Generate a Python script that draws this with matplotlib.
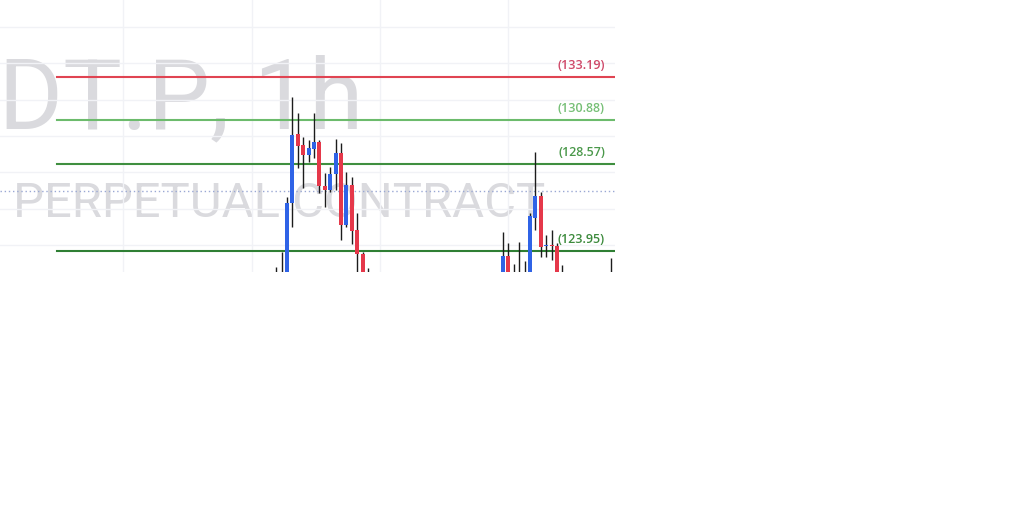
"""Recreate a cropped TradingView-style 1h candlestick chart with level lines."""

import matplotlib
matplotlib.use("Agg")
import matplotlib.pyplot as plt
import matplotlib.transforms as mtransforms

# candle position index and OHLC (hidden parts below the crop are estimates)
idx = [51, 52, 53, 54, 55, 56, 57, 58, 59, 60, 61, 62, 63, 64, 65, 66, 67, 68,
       93, 94, 95, 96, 97, 98, 99, 100, 101, 102, 103, 104, 113]
opens = [122.5, 122.5, 122.0, 126.48, 130.16, 129.58, 129.05, 129.37, 129.76, 127.40,
         127.19, 128.02, 129.14, 125.33, 127.46, 125.07, 123.79, 122.5,
         122.5, 123.68, 122.5, 122.5, 122.5, 122.5, 125.69, 126.87, 124.22, 124.26,
         124.22, 122.5, 122.5]
highs = [123.10, 123.91, 126.83, 132.15, 131.26, 130.02, 129.85, 131.26, 129.85, 128.08,
         128.39, 129.88, 129.67, 128.16, 127.86, 125.95, 123.91, 123.05,
         124.98, 124.36, 123.26, 124.45, 123.44, 125.95, 129.22, 127.10, 124.80, 125.07,
         124.36, 123.21, 123.56]
lows = [122.2, 122.2, 121.8, 125.24, 128.34, 127.28, 128.69, 128.87, 127.01, 126.30,
        127.10, 127.19, 124.53, 125.24, 124.32, 122.5, 122.3, 122.3,
        122.2, 122.3, 122.2, 122.2, 122.2, 122.3, 125.07, 123.65, 123.65, 123.47,
        122.4, 122.2, 122.2]
closes = [122.6, 122.6, 126.52, 130.11, 129.54, 129.05, 129.40, 129.72, 127.40, 127.19,
          128.02, 129.14, 125.33, 127.46, 125.03, 123.79, 122.5, 122.6,
          123.68, 122.6, 122.6, 122.6, 122.6, 125.81, 126.87, 124.18, 124.26, 124.22,
          122.6, 122.6, 122.6]

# horizontal levels
levels = [133.19, 130.88, 128.57, 123.95]
level_labels = ["(133.19)", "(130.88)", "(128.57)", "(123.95)"]
level_colors = ["#e04452", "#6cbb6c", "#3f8f3f", "#2f7f34"]
label_colors = ["#cf4868", "#76bf76", "#4a984a", "#3c8a3c"]
last_price = 127.14

grid_prices = [135.85, 133.92, 131.99, 130.06, 128.13, 126.20, 124.27]
grid_idx = [22.6, 46.5, 70.2, 93.9]

# watermark lines: text, measured part, part width px, right px, baseline px, cap px
watermark = [
    ("SDT.P, 1h", "DT.P, 1h", 353, 363, 128, 76),
    ("S PERPETUAL CONTRACT", "PERPETUAL CONTRACT", 520, 545, 217, 37),
]

UP = "#2f63e6"
DOWN = "#e5384a"
WICK = "#1c1c1c"
W, H = 1024, 517

fig = plt.figure(figsize=(W / 100, H / 100), dpi=100)
fig.patch.set_facecolor("white")
ax = fig.add_axes([0, 1 - 272 / H, 615 / W, 272 / H])
ax.set_xlim(-0.148, 113.74)
ax.set_ylim(122.83, 137.28)
ax.axis("off")

# faint grid
for g in grid_prices:
    ax.axhline(g, color="#f1f2f6", lw=1, zorder=0.5)
for g in grid_idx:
    ax.axvline(g, color="#f1f2f6", lw=1, zorder=0.5)

# watermark: size leans on the width fit, with some of the cap-height fit
renderer = fig.canvas.get_renderer()
wm_font = "Roboto"
for full, part, part_w, right, base, caph in watermark:
    probe = fig.text(0, 0, part, fontsize=50, family=wm_font)
    pw = probe.get_window_extent(renderer).width
    probe.remove()
    size_w = 50 * part_w / pw
    size_h = caph / 0.711 * 72 / fig.dpi
    size = size_w ** 0.7 * size_h ** 0.3
    ax.text(right / 615, 1 - base / 272, full, transform=ax.transAxes, ha="right",
            va="baseline", fontsize=size, family=wm_font, color="#dadade", zorder=0.2)

# levels
blend = mtransforms.blended_transform_factory(ax.transAxes, ax.transData)
label_tr = mtransforms.offset_copy(blend, fig=fig, y=8, units="dots")
for lv, lab, c, lc in zip(levels, level_labels, level_colors, label_colors):
    ax.axhline(lv, xmin=57 / 615, xmax=1, color=c, lw=1.5, zorder=2)
    ax.text(605 / 615, lv, lab, transform=label_tr, ha="right", va="baseline",
            fontsize=9, family="Open Sans", fontweight="semibold", color=lc, zorder=4)

ax.axhline(last_price, color="#9aa8d4", lw=1, ls=(0, (1, 2)), zorder=1.5)

# candles
for i, o, h, l, c in zip(idx, opens, highs, lows, closes):
    ax.vlines(i, l, h, color=WICK, lw=1, zorder=3)
    col = UP if c >= o else DOWN
    ax.bar(i, max(abs(c - o), 0.05), bottom=min(o, c), width=0.74, color=col,
           linewidth=0, zorder=3.5)

fig.savefig("out.png", dpi=100)
